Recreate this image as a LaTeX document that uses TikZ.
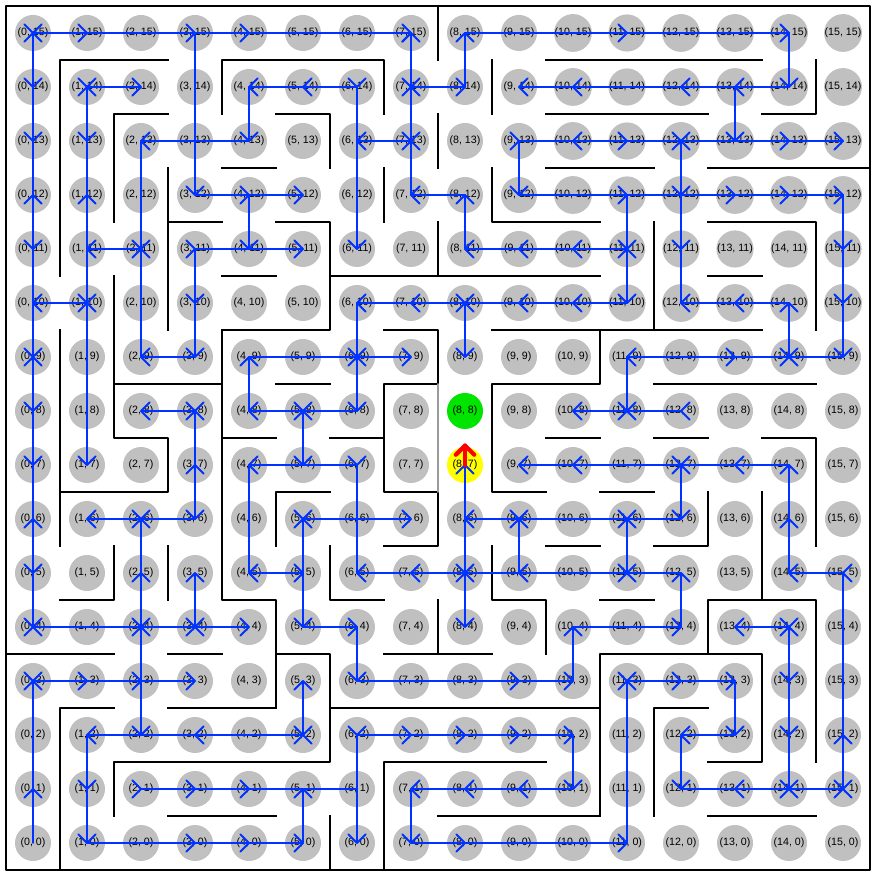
\documentclass[tikz,border=0pt]{standalone}
\usepackage{fontspec}
\setmainfont{Liberation Sans}
\usetikzlibrary{calc}

\definecolor{cellgray}{RGB}{192,192,192}
\definecolor{goalgreen}{RGB}{0,228,0}
\definecolor{startyellow}{RGB}{255,255,0}
\definecolor{routeblue}{RGB}{0,51,255}

\tikzset{
  cell/.style={circle,fill=cellgray,minimum size=0.667cm,inner sep=0pt,
    font=\fontsize{5.6}{6}\selectfont},
  wall/.style={line width=1pt,line cap=rect},
  route/.style={draw=routeblue,line width=1pt},
  heading/.style={draw=red,line width=2.2pt},
}
% open head with its tip at the centre of a cell
\newcommand{\arrhead}[3]{%
  \draw[route] (c-#1-#2.center) ++(#3+135:0.23) -- (c-#1-#2.center) -- ++(#3-135:0.23);}

\begin{document}
\begin{tikzpicture}[line cap=round,line join=round]
  \useasboundingbox (-0.611,-0.648) rectangle (15.630,15.611);

  % cells
  \foreach \i in {0,...,15}
    \foreach \j in {0,...,15}{
      \def\cfill{cellgray}
      \ifnum\i=8 \ifnum\j=8 \def\cfill{goalgreen}\fi\ifnum\j=7 \def\cfill{startyellow}\fi\fi
      \node[cell,fill=\cfill] (c-\i-\j) at (\i,\j) {(\i, \j)};
    }

  % walls, in grid-line units
  \begin{scope}[shift={(-0.5,15.5)},yscale=-1]
    \draw[wall] (0,0) rectangle (16,16);
    \draw[wall] (3,1) -- (1,1) -- (1,5);
    \draw[wall] (4,2) -- (4,1) -- (7,1) -- (7,2);
    \draw[wall] (8,0) -- (8,1);
    \draw[wall] (9,1) -- (9,2);
    \draw[wall] (10,1) -- (14,1);
    \draw[wall] (14,2) -- (15,2) -- (15,1);
    \draw[wall] (3,2) -- (2,2) -- (2,4);
    \draw[wall] (5,2) -- (6,2) -- (6,3);
    \draw[wall] (8,2) -- (8,3);
    \draw[wall] (10,2) -- (13,2);
    \draw[wall] (3,3) -- (3,6);
    \draw[wall] (3,4) -- (4,4);
    \draw[wall] (4,3) -- (5,3);
    \draw[wall] (7,3) -- (7,4);
    \draw[wall] (9,3) -- (9,4) -- (11,4);
    \draw[wall] (10,3) -- (12,3);
    \draw[wall] (13,3) -- (16,3);
    \draw[wall] (5,4) -- (6,4) -- (6,6) -- (4,6);
    \draw[wall] (6,5) -- (11,5);
    \draw[wall] (8,4) -- (8,5);
    \draw[wall] (13,4) -- (15,4) -- (15,6);
    \draw[wall] (12,4) -- (12,6);
    \draw[wall] (4,5) -- (5,5);
    \draw[wall] (13,5) -- (14,5);
    \draw[wall] (2,5) -- (2,8) -- (3,8) -- (3,9) -- (1,9);
    \draw[wall] (1,6) -- (1,10);
    \draw[wall] (4,6) -- (4,11) -- (5,11) -- (5,13);
    \draw[wall] (5,12) -- (6,12) -- (6,14) -- (2,14) -- (2,15);
    \draw[wall] (4,8) -- (5,8);
    \draw[wall] (2,7) -- (4,7);
    \draw[wall] (5,7) -- (6,7);
    \draw[wall] (5,10) -- (5,9) -- (6,9);
    \draw[wall] (2,10) -- (2,11) -- (1,11);
    \draw[wall] (3,10) -- (3,11);
    \draw[wall] (6,10) -- (6,11) -- (7,11);
    \draw[wall] (7,6) -- (8,6) -- (8,7);
    \draw[wall] (8,7) -- (7,7) -- (7,9) -- (8,9);
    \draw[wall] (6,8) -- (7,8);
    \draw[wall] (8,9) -- (8,10) -- (7,10);
    \draw[wall] (11,6) -- (11,7) -- (9,7) -- (9,9) -- (10,9);
    \draw[wall] (9,6) -- (14,6);
    \draw[wall] (10,8) -- (11,8);
    \draw[wall] (9,10) -- (9,11) -- (10,11) -- (10,12);
    \draw[wall] (10,10) -- (11,10);
    \draw[wall] (12,7) -- (15,7);
    \draw[wall] (12,8) -- (13,8);
    \draw[wall] (14,8) -- (15,8) -- (15,10);
    \draw[wall] (11,9) -- (12,9);
    \draw[wall] (13,9) -- (13,10) -- (12,10);
    \draw[wall] (14,9) -- (14,11);
    \draw[wall] (13,12) -- (13,11) -- (15,11) -- (15,14);
    \draw[wall] (11,11) -- (12,11);
    \draw[wall] (11,15) -- (11,12) -- (14,12) -- (14,14) -- (13,14);
    \draw[wall] (6,13) -- (11,13);
    \draw[wall] (13,13) -- (12,13) -- (12,15);
    \draw[wall] (8,15) -- (11,15);
    \draw[wall] (13,15) -- (15,15);
    \draw[wall] (8,11) -- (8,12);
    \draw[wall] (7,12) -- (9,12);
    \draw[wall] (7,16) -- (7,14) -- (10,14);
    \draw[wall] (6,15) -- (6,16);
    \draw[wall] (0,12) -- (2,12);
    \draw[wall] (3,12) -- (4,12);
    \draw[wall] (2,13) -- (1,13) -- (1,16);
    \draw[wall] (3,13) -- (5,13);
    \draw[wall] (3,15) -- (5,15);
    \draw[line width=1pt,cellgray!80!black] (8,7) -- (8,9);
  \end{scope}

  % route segments
  \foreach \a/\b in {0-15/7-15, 8-15/14-15,
      1-14/2-14, 4-14/6-14, 7-14/8-14, 9-14/14-14,
      2-13/4-13, 6-13/7-13, 9-13/15-13,
      3-12/5-12, 7-12/8-12, 9-12/15-12,
      1-11/2-11, 3-11/5-11, 8-11/11-11,
      0-10/1-10, 6-10/11-10, 12-10/14-10,
      2-9/3-9, 4-9/7-9, 11-9/15-9,
      2-8/3-8, 4-8/6-8, 10-8/12-8,
      4-7/6-7, 9-7/14-7,
      1-6/3-6, 5-6/7-6, 8-6/12-6,
      4-5/5-5, 6-5/12-5, 14-5/15-5,
      0-4/4-4, 5-4/6-4, 10-4/12-4, 13-4/14-4,
      0-3/3-3, 6-3/10-3, 11-3/13-3,
      1-2/5-2, 6-2/10-2, 12-2/13-2,
      2-1/6-1, 7-1/10-1, 12-1/15-1,
      1-0/5-0, 7-0/11-0,
      0-15/0-4, 0-3/0-0, 1-14/1-7, 1-2/1-0,
      2-13/2-9, 2-6/2-2,
      3-15/3-12, 3-11/3-9, 3-8/3-6, 3-5/3-4,
      4-14/4-13, 4-12/4-11, 4-9/4-8, 4-7/4-5,
      5-8/5-7, 5-6/5-4, 5-3/5-2, 5-1/5-0,
      6-14/6-11, 6-10/6-8, 6-7/6-5, 6-4/6-3, 6-2/6-0,
      7-15/7-12, 7-1/7-0,
      8-15/8-14, 8-12/8-11, 8-10/8-9, 8-7/8-4,
      9-13/9-12, 9-6/9-5,
      10-4/10-3, 10-2/10-1,
      11-12/11-10, 11-9/11-8, 11-6/11-5, 11-3/11-0,
      12-13/12-10, 12-7/12-6, 12-5/12-4, 12-2/12-1,
      13-14/13-13, 13-3/13-2,
      14-15/14-14, 14-10/14-9, 14-7/14-5, 14-4/14-1,
      15-12/15-9, 15-5/15-1}
    \draw[route] (c-\a.center) -- (c-\b.center);

  % heads: 0 right, 90 up, 180 left, 270 down
  \foreach \i/\j/\d in {0/15/0, 0/15/180, 1/15/0, 3/15/0, 4/15/0, 7/15/0, 7/15/90,
      8/15/90, 11/15/0, 14/15/0,
      0/14/270, 1/14/0, 1/14/180, 2/14/0, 4/14/180, 5/14/180, 6/14/270, 7/14/0,
      7/14/180, 8/14/0, 9/14/180, 10/14/180, 12/14/180, 13/14/180, 14/14/270,
      0/13/270, 1/13/270, 2/13/180, 4/13/270, 6/13/180, 7/13/0, 7/13/180, 9/13/0,
      10/13/180, 11/13/0, 12/13/0, 12/13/180, 13/13/270, 14/13/0, 15/13/0,
      0/12/90, 1/12/90, 3/12/270, 4/12/0, 5/12/0, 7/12/180, 8/12/90, 9/12/270,
      11/12/0, 12/12/270, 13/12/0, 14/12/0, 15/12/0,
      0/11/270, 1/11/180, 2/11/0, 2/11/180, 3/11/0, 4/11/270, 5/11/0, 6/11/270,
      8/11/180, 9/11/180, 10/11/180, 11/11/0, 11/11/180, 12/11/270, 15/11/270,
      0/10/180, 1/10/0, 1/10/180, 3/10/270, 6/10/180, 7/10/180, 8/10/0, 8/10/180,
      9/10/180, 10/10/180, 11/10/270, 12/10/180, 13/10/180, 14/10/90, 15/10/270,
      0/9/0, 0/9/180, 2/9/180, 3/9/270, 4/9/90, 6/9/0, 6/9/180, 7/9/0, 8/9/270,
      11/9/180, 13/9/0, 14/9/0, 14/9/180, 15/9/270,
      0/8/270, 2/8/180, 3/8/0, 3/8/180, 4/8/180, 5/8/0, 5/8/180, 6/8/270,
      10/8/180, 11/8/0, 11/8/180, 12/8/180,
      0/7/270, 1/7/270, 3/7/90, 4/7/180, 5/7/270, 6/7/270, 8/7/90, 9/7/180,
      10/7/180, 12/7/0, 12/7/180, 13/7/180, 14/7/90,
      0/6/90, 1/6/180, 2/6/0, 2/6/180, 3/6/270, 5/6/0, 5/6/180, 7/6/0, 8/6/180,
      9/6/0, 9/6/180, 11/6/0, 11/6/180, 12/6/270, 14/6/90,
      0/5/270, 2/5/90, 3/5/90, 4/5/180, 5/5/0, 6/5/180, 7/5/180, 8/5/0, 8/5/180,
      9/5/180, 11/5/0, 11/5/180, 12/5/90, 14/5/180, 15/5/180,
      0/4/0, 0/4/180, 2/4/0, 2/4/180, 3/4/0, 3/4/180, 4/4/0, 5/4/270, 6/4/0,
      8/4/270, 10/4/90, 12/4/0, 13/4/180, 14/4/0, 14/4/180,
      0/3/0, 0/3/180, 1/3/0, 2/3/0, 3/3/0, 5/3/90, 6/3/270, 9/3/0, 10/3/0,
      11/3/0, 11/3/180, 12/3/0, 13/3/0, 14/3/270,
      1/2/180, 2/2/270, 3/2/180, 5/2/0, 5/2/180, 6/2/270, 7/2/0, 8/2/0, 9/2/0,
      10/2/0, 12/2/180, 13/2/270, 14/2/270, 15/2/90,
      0/1/90, 1/1/270, 2/1/0, 3/1/0, 4/1/0, 5/1/90, 7/1/180, 8/1/180, 9/1/180,
      10/1/270, 12/1/270, 13/1/180, 14/1/0, 14/1/180, 15/1/0, 15/1/180,
      1/0/270, 3/0/0, 4/0/0, 5/0/0, 6/0/270, 7/0/270, 8/0/0, 11/0/0}
    \arrhead{\i}{\j}{\d};

  % current heading
  \coordinate (tip) at ($(c-8-7.center)+(0,0.36)$);
  \draw[heading] (c-8-7.center) -- (tip);
  \draw[heading] ($(tip)+(-0.17,-0.17)$) -- (tip) -- ($(tip)+(0.17,-0.17)$);
\end{tikzpicture}
\end{document}
